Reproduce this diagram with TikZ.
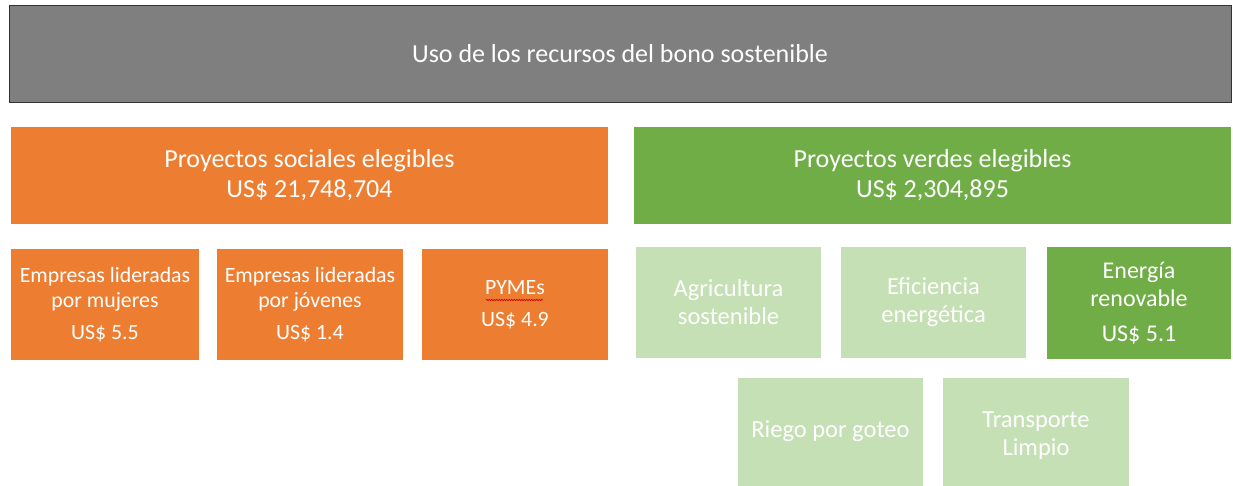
\documentclass[tikz,border=0pt]{standalone}
\usepackage{fontspec}
\setmainfont{Carlito}
\usetikzlibrary{decorations.pathmorphing}
\definecolor{topgray}{HTML}{7F7F7F}
\definecolor{orng}{HTML}{ED7D31}
\definecolor{grn}{HTML}{70AD47}
\definecolor{lgrn}{HTML}{C5E0B4}
\begin{document}
\begin{tikzpicture}[x=1pt,y=-1pt,
  box/.style={rectangle,inner sep=0pt,outer sep=0pt,text=white,align=center,font=\fontsize{21.8}{25}\selectfont},
  bigbox/.style={box,minimum width=597pt,minimum height=97pt,font=\fontsize{26}{30}\selectfont},
  obox/.style={box,fill=orng,minimum height=111pt},
  gbox/.style={box,fill=grn,minimum height=111pt,font=\fontsize{24}{28}\selectfont},
  lbox/.style={box,fill=lgrn,font=\fontsize{24.5}{28}\selectfont}]
\useasboundingbox (0,0) rectangle (1233,486);
\fill[white] (0,0) rectangle (1233,486);
\node[box,fill=topgray,draw=black!80,line width=0.8pt,minimum width=1222pt,minimum height=97pt,font=\fontsize{26}{30}\selectfont] (top) at (620,53.5) {Uso de los recursos del bono sostenible};
\node[bigbox,fill=orng] (soc) at (309.5,175.5) {Proyectos sociales elegibles\\US\$ 21,748,704};
\node[bigbox,fill=grn] (ver) at (932.5,175.5) {Proyectos verdes elegibles\\US\$ 2,304,895};
\node[obox,minimum width=188pt] (muj) at (105,304.5) {Empresas lideradas\\por mujeres\\[7pt]US\$ 5.5};
\node[obox,minimum width=186pt] (jov) at (310,304.5) {Empresas lideradas\\por jóvenes\\[7pt]US\$ 1.4};
\node[obox,minimum width=186pt] (pym) at (515,304.5) {PYMEs\\[7pt]US\$ 4.9};
\draw[red!80!black,line width=0.6pt,decorate,decoration={snake,amplitude=0.7pt,segment length=2.5pt}] (486,300) -- (543,300);
\node[lbox,minimum width=185pt,minimum height=111pt] (agr) at (728.5,302.5) {Agricultura\\sostenible};
\node[lbox,minimum width=185pt,minimum height=111pt] (efi) at (933.5,302.5) {Eficiencia\\energética};
\node[gbox,minimum width=184pt] (ene) at (1139,303) {Energía\\renovable\\[7pt]US\$ 5.1};
\node[lbox,minimum width=185pt,minimum height=108pt] (rie) at (830.5,431.5) {Riego por goteo};
\node[lbox,minimum width=186pt,minimum height=108pt] (tra) at (1036,431.5) {\rule{0pt}{23.5pt}Transporte\\Limpio};
\end{tikzpicture}
\end{document}
